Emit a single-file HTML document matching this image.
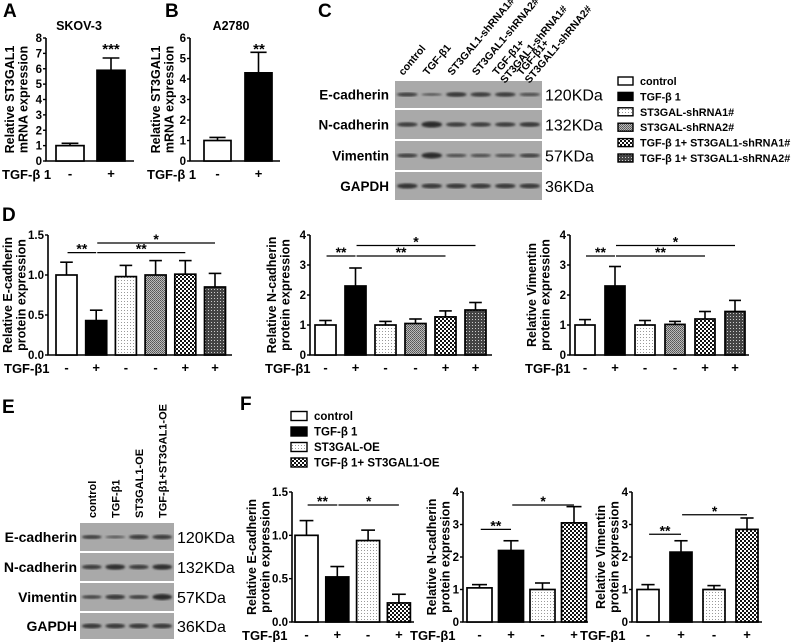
<!DOCTYPE html>
<html><head><meta charset="utf-8"><style>
html,body{margin:0;padding:0;background:#fff;overflow:hidden}
svg{display:block;font-family:"Liberation Sans",Arial,sans-serif;font-weight:bold}
</style></head><body>
<svg id="fig" width="799" height="642" viewBox="0 0 799 642" xmlns="http://www.w3.org/2000/svg">
<defs>
<pattern id="pDots" width="3" height="3" patternUnits="userSpaceOnUse"><rect width="3" height="3" fill="#fff"/><rect x="1" y="1" width="1" height="1" fill="#999"/></pattern>
<pattern id="pGray" width="2" height="2" patternUnits="userSpaceOnUse"><rect width="2" height="2" fill="#bbb"/><rect width="1" height="1" fill="#555"/><rect x="1" y="1" width="1" height="1" fill="#666"/></pattern>
<pattern id="pCheck" width="4" height="4" patternUnits="userSpaceOnUse"><rect width="4" height="4" fill="#fff"/><rect width="2" height="2" fill="#111"/><rect x="2" y="2" width="2" height="2" fill="#111"/></pattern>
<pattern id="pDense" width="3" height="3" patternUnits="userSpaceOnUse"><rect width="3" height="3" fill="#444"/><rect x="1" y="1" width="1" height="1" fill="#ccc"/></pattern>
<filter id="blur"><feGaussianBlur stdDeviation="1.1"/></filter>
</defs>
<g id="root"></g>
</svg>
<script>
// ---- data ----
const aValues=[1.0,5.9]; const aErr=[0.15,0.8]; const aTicks=["0","1","2","3","4","5","6","7","8"];
const bValues=[1.0,4.3]; const bErr=[0.15,1.0]; const bTicks=["0","1","2","3","4","5","6"];
const d1Values=[1.0,0.43,0.98,1.0,1.01,0.85]; const d1Err=[0.16,0.13,0.14,0.18,0.17,0.17]; const d1Ticks=["0.0","0.5","1.0","1.5"];
const d2Values=[1.0,2.3,1.0,1.05,1.27,1.5]; const d2Err=[0.15,0.6,0.12,0.15,0.2,0.25]; const d2Ticks=["0","1","2","3","4"];
const d3Values=[1.0,2.3,1.0,1.02,1.2,1.45]; const d3Err=[0.18,0.65,0.15,0.1,0.25,0.37]; const d3Ticks=["0","1","2","3","4"];
const f1Values=[1.0,0.52,0.94,0.22]; const f1Err=[0.17,0.12,0.12,0.1]; const f1Ticks=["0.0","0.5","1.0","1.5"];
const f2Values=[1.05,2.2,1.0,3.05]; const f2Err=[0.1,0.3,0.2,0.5]; const f2Ticks=["0","1","2","3","4"];
const f3Values=[1.0,2.15,1.0,2.85]; const f3Err=[0.15,0.35,0.12,0.35]; const f3Ticks=["0","1","2","3","4"];
const signs2=["-","+"]; const signs6=["-","+","-","-","+","+"]; const signs4=["-","+","-","+"];
const legendC=["control","TGF-β 1","ST3GAL-shRNA1#","ST3GAL-shRNA2#","TGF-β 1+ ST3GAL1-shRNA1#","TGF-β 1+ ST3GAL1-shRNA2#"];
const legendF=["control","TGF-β 1","ST3GAL-OE","TGF-β 1+ ST3GAL1-OE"];

const NS="http://www.w3.org/2000/svg";
const root=document.getElementById('root');
function el(tag,attrs,parent,txt){const e=document.createElementNS(NS,tag);for(const k in attrs)e.setAttribute(k,attrs[k]);if(txt!==undefined)e.textContent=txt;(parent||root).appendChild(e);return e;}
function txt(x,y,s,size,anchor,parent,extra){const t=el('text',Object.assign({x:x,y:y,'font-size':size,'text-anchor':anchor||'start'},extra||{}),parent,s);return t;}

const fills6=["#fff","#000","url(#pDots)","url(#pGray)","url(#pCheck)","url(#pDense)"];
const fills4=["#fff","#000","url(#pDots)","url(#pCheck)"];

function chart(c){
  const g=el('g',{});
  
  
  const ys=v=>c.y0-(v/c.max)*(c.y0-c.y1);
  const ax=el('path',{d:`M${c.ax},${c.y1}V${c.y0}H${c.axEnd}`,stroke:'#000','stroke-width':1.6,fill:'none'},g);
  
  
  c.ticks.forEach((t,i)=>{const v=parseFloat(t);const y=ys(v);
    el('line',{x1:c.ax-3,x2:c.ax,y1:y,y2:y,stroke:'#000','stroke-width':1.4},g);
    const tl=txt(c.ax-4,y+4,t,11.5,'end',g);
    
    
  });
  c.values.forEach((v,i)=>{
    const x=c.bx+i*c.step, w=c.bw, y=ys(v), cx=x+w/2;
    const ey=ys(v+c.err[i]);
    el('line',{x1:cx,x2:cx,y1:y,y2:ey,stroke:'#000','stroke-width':1.6},g);
    el('line',{x1:cx-w*0.3,x2:cx+w*0.3,y1:ey,y2:ey,stroke:'#000','stroke-width':1.6},g);
    const r=el('rect',{x:x,y:y,width:w,height:c.y0-y,fill:c.fills[i],stroke:'#000','stroke-width':1.7},g);
    
    
    const s=txt(cx,c.y0+17,c.signs[i],13,'middle',g);
    
    
  });
  const tg=txt(c.tgfX,c.y0+18,c.tgf,13,'start',g);
  
  
  const yt=el('text',{transform:`translate(${c.ax-c.ylOff},${(c.y0+c.y1)/2}) rotate(-90)`,'font-size':12.5,'text-anchor':'middle'},g);
  
  
  el('tspan',{x:0,y:0},yt,c.yl[0]); el('tspan',{x:0,y:13.5},yt,c.yl[1]);
  (c.sig||[]).forEach(s=>{
    const x1=c.bx+s[0]*c.step+c.bw*0.55, x2=c.bx+s[1]*c.step+c.bw*0.5, y=ys(s[2]);
    el('line',{x1:x1,x2:x2,y1:y,y2:y,stroke:'#000','stroke-width':1.3},g);
    const st=txt((x1+x2)/2,y+1,s[3],14,'middle',g);
    
    
  });
  if(c.title){const t=txt(c.titleX,30,c.title,12.5,'middle',g);}
}

chart({name:'chart-a-skov3',ax:46,axEnd:134,y0:161,y1:38,max:8,ticks:aTicks,values:aValues,err:aErr,bx:56,bw:28,step:41,fills:["#fff","#000"],signs:signs2,tgf:"TGF-β 1",tgfX:2,yl:["Relative ST3GAL1","mRNA expression"],ylOff:32,sig:[],title:"SKOV-3",titleX:79});
txt(111,54,"***",15,'middle');
chart({name:'chart-b-a2780',ax:190,axEnd:280,y0:161,y1:38,max:6,ticks:bTicks,values:bValues,err:bErr,bx:204,bw:27,step:41,fills:["#fff","#000"],signs:signs2,tgf:"TGF-β 1",tgfX:147,yl:["Relative ST3GAL1","mRNA expression"],ylOff:30,sig:[],title:"A2780",titleX:231});
txt(259,54,"**",15,'middle');

chart({name:'chart-d-ecadherin',ax:48,axEnd:232,y0:355,y1:235,max:1.5,ticks:d1Ticks,values:d1Values,err:d1Err,bx:56,bw:21,step:29.7,fills:fills6,signs:signs6,tgf:"TGF-β1",tgfX:4,yl:["Relative E-cadherin","protein expression"],ylOff:36,sig:[[0,1,1.28,"**"],[1,4,1.28,"**"],[1,5,1.4,"*"]]});
chart({name:'chart-d-ncadherin',ax:310,axEnd:492,y0:355,y1:235,max:4,ticks:d2Ticks,values:d2Values,err:d2Err,bx:315,bw:21,step:30,fills:fills6,signs:signs6,tgf:"TGF-β1",tgfX:265,yl:["Relative N-cadherin","protein expression"],ylOff:34,sig:[[0,1,3.3,"**"],[1,4,3.3,"**"],[1,5,3.65,"*"]]});
chart({name:'chart-d-vimentin',ax:570,axEnd:749,y0:355,y1:235,max:4,ticks:d3Ticks,values:d3Values,err:d3Err,bx:575,bw:20,step:30,fills:fills6,signs:signs6,tgf:"TGF-β1",tgfX:525,yl:["Relative Vimentin","protein expression"],ylOff:34,sig:[[0,1,3.3,"**"],[1,4,3.3,"**"],[1,5,3.65,"*"]]});

chart({name:'chart-f-ecadherin',ax:292,axEnd:414,y0:622,y1:492,max:1.5,ticks:f1Ticks,values:f1Values,err:f1Err,bx:295,bw:23,step:30.8,fills:fills4,signs:signs4,tgf:"TGF-β1",tgfX:242,yl:["Relative E-cadherin","protein expression"],ylOff:36,sig:[[0,1,1.35,"**"],[1,3,1.35,"*"]]});
chart({name:'chart-f-ncadherin',ax:463,axEnd:588,y0:622,y1:492,max:4,ticks:f2Ticks,values:f2Values,err:f2Err,bx:467,bw:25,step:31.5,fills:fills4,signs:signs4,tgf:"TGF-β1",tgfX:410,yl:["Relative N-cadherin","protein expression"],ylOff:27,sig:[[0,1,2.85,"**"],[1,3,3.6,"*"]]});
chart({name:'chart-f-vimentin',ax:632,axEnd:762,y0:622,y1:492,max:4,ticks:f3Ticks,values:f3Values,err:f3Err,bx:637,bw:22,step:33,fills:fills4,signs:signs4,tgf:"TGF-β1",tgfX:580,yl:["Relative Vimentin","protein expression"],ylOff:27,sig:[[0,1,2.7,"**"],[1,3,3.3,"*"]]});

// ---- blots ----
const blotCRows=["E-cadherin","N-cadherin","Vimentin","GAPDH"];
const blotCKDa=["120KDa","132KDa","57KDa","36KDa"];
const blotCBand=[[0.8,0.4,1,0.9,0.9,0.6],[0.9,1.4,0.9,0.9,0.9,1],[0.8,1.3,0.6,0.6,0.6,0.8],[1.1,1,1,1,1,1]];
const blotCLanes=[["control"],["TGF-β1"],["ST3GAL1-shRNA1#"],["ST3GAL1-shRNA2#"],["TGF-β1+","ST3GAL1-shRNA1#"],["TGF-β1+","ST3GAL1-shRNA2#"]];
const blotERows=blotCRows, blotEKDa=blotCKDa;
const blotEBand=[[0.8,0.4,0.9,0.9],[0.9,1.2,0.9,1.2],[0.7,1.0,0.8,1.3],[1,1,1,1]];
const blotELanes=["control","TGF-β1","ST3GAL1-OE","TGF-β1+ST3GAL1-OE"];

function blot(name,x0,x1,rows,labels,kda,bands,lx,kx,fs){
  const g=el('g',{});
  
  
  const n=bands[0].length, lw=(x1-x0)/n;
  rows.forEach((r,ri)=>{
    const [ya,yb]=r;
    const box=el('rect',{x:x0,y:ya,width:x1-x0,height:yb-ya,fill:'#a9a9a9'},g);
    
    
    const cy=(ya+yb)/2;
    bands[ri].forEach((b,i)=>{
      el('ellipse',{cx:x0+(i+0.5)*lw,cy:cy,rx:lw*0.42,ry:1.8*b+0.6,fill:'#2a2a2a',opacity:Math.min(1,0.55+0.35*b),filter:'url(#blur)'},g);
    });
    txt(lx,cy+5,labels[ri],fs,'end',g);
    txt(kx,cy+6,kda[ri],16,'start',g,{'font-weight':'normal'});
  });
  return lw;
}
let lw=blot('blot-c',395,542,[[81,108],[110,139],[141,170],[172,200]],blotCRows,blotCKDa,blotCBand,389,545,13.5);
blotCLanes.forEach((l,i)=>{
  const cx=395+(i+0.5)*lw;
  const t=el('text',{transform:`translate(${cx-4+(l.length>1?-4:0)},76) rotate(-50)`,'font-size':10.5});
  
  
  l.forEach((s,j)=>el('tspan',{x:j*-1,y:j*11},t,s));
});
lw=blot('blot-e',80,174,[[523,551],[553,581],[583,611],[613,639]],blotERows,blotEKDa,blotEBand,77,177,14);
blotELanes.forEach((l,i)=>{
  const cx=80+(i+0.5)*lw;
  const t=el('text',{transform:`translate(${cx+4},518) rotate(-90)`,'font-size':11},root,l);
  
  
});

// ---- legends ----
function legend(name,items,fills,x,y0,step,w,h,tx,fs){
  const g=el('g',{});
  
  
  items.forEach((s,i)=>{const y=y0+i*step;
    const r=el('rect',{x:x,y:y-h/2,width:w,height:h,fill:fills[i],stroke:'#000','stroke-width':1.4},g);
    
    
    const t=txt(tx,y+4,s,fs,'start',g);
    
    
  });
}
legend('legend-c',legendC,fills6,618,81,15.4,15,8,640,10.8);
legend('legend-f',legendF,fills4,291,416,15.5,16,9,314,11.5);

// panel letters
[["A",3,17],["B",165,17],["C",318,17],["D",2,221],["E",2,413],["F",240,410]].forEach(p=>{
  const t=txt(p[1],p[2],p[0],19,'start');
  
  
});
</script>
</body></html>
